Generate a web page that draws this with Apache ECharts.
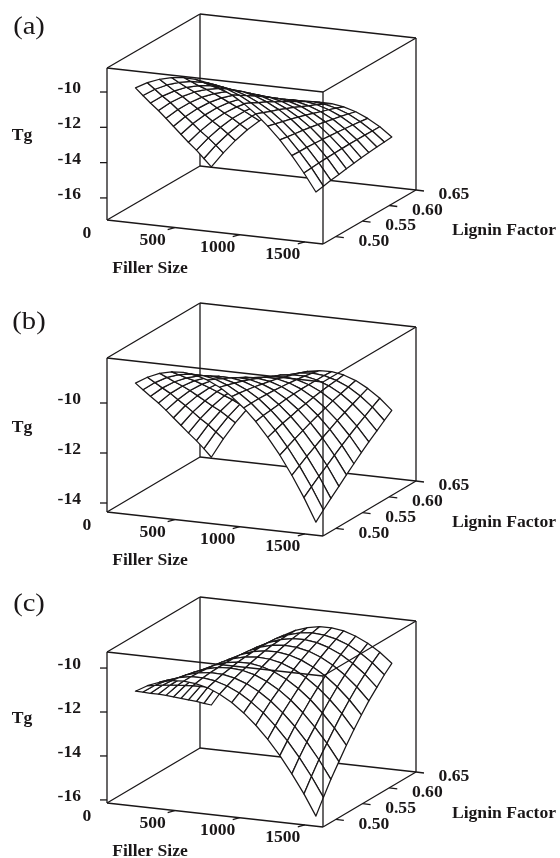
<!DOCTYPE html>
<html><head><meta charset="utf-8"><style>html,body{margin:0;background:#fff}#c{width:560px;height:858px}</style>
<script src="https://cdn.jsdelivr.net/npm/echarts@6/dist/echarts.min.js"></script></head><body><div id="c"></div>
<script>
const fillerGrid=[100,192,285,377,470,562,655,747,840,932,1025,1117,1210,1302,1395,1487];
const ligninGrid=[.50,.514,.528,.543,.557,.571,.585,.599,.614,.628,.642];
const fillerTicks=[500,1000,1500];
const ligninTicks=['0.50','0.55','0.60','0.65'];
const tgA=[
[-10.09,-9.72,-9.45,-9.28,-9.20,-9.23,-9.35,-9.57,-9.88,-10.30,-10.81,-11.42,-12.13,-12.94,-13.85,-14.85],
[-10.77,-10.34,-10.02,-9.80,-9.67,-9.64,-9.71,-9.88,-10.15,-10.51,-10.98,-11.54,-12.20,-12.96,-13.81,-14.77],
[-11.44,-10.97,-10.60,-10.32,-10.15,-10.07,-10.09,-10.21,-10.42,-10.74,-11.15,-11.66,-12.27,-12.97,-13.78,-14.68],
[-12.13,-11.60,-11.18,-10.85,-10.63,-10.50,-10.47,-10.53,-10.70,-10.96,-11.32,-11.78,-12.34,-13.00,-13.75,-14.61],
[-12.81,-12.24,-11.77,-11.39,-11.11,-10.93,-10.85,-10.87,-10.98,-11.20,-11.51,-11.92,-12.42,-13.03,-13.73,-14.54],
[-13.51,-12.88,-12.36,-11.93,-11.60,-11.37,-11.24,-11.21,-11.27,-11.43,-11.69,-12.05,-12.51,-13.07,-13.72,-14.47],
[-14.21,-13.53,-12.96,-12.48,-12.10,-11.82,-11.64,-11.55,-11.57,-11.68,-11.89,-12.20,-12.60,-13.11,-13.71,-14.41],
[-14.91,-14.19,-13.56,-13.03,-12.60,-12.27,-12.04,-11.90,-11.87,-11.93,-12.09,-12.35,-12.70,-13.16,-13.71,-14.36],
[-15.62,-14.85,-14.17,-13.59,-13.11,-12.73,-12.45,-12.26,-12.17,-12.18,-12.29,-12.50,-12.80,-13.21,-13.71,-14.31],
[-16.34,-15.51,-14.79,-14.16,-13.63,-13.19,-12.86,-12.62,-12.48,-12.44,-12.50,-12.66,-12.91,-13.27,-13.72,-14.27],
[-17.06,-16.19,-15.41,-14.73,-14.15,-13.66,-13.28,-12.99,-12.80,-12.71,-12.72,-12.83,-13.03,-13.33,-13.73,-14.23]];
const tgB=[
[-9.44,-9.15,-8.94,-8.83,-8.80,-8.85,-9.00,-9.23,-9.55,-9.95,-10.44,-11.02,-11.68,-12.43,-13.27,-14.20],
[-9.88,-9.54,-9.28,-9.12,-9.04,-9.05,-9.14,-9.32,-9.59,-9.94,-10.38,-10.91,-11.53,-12.23,-13.02,-13.89],
[-10.32,-9.93,-9.63,-9.42,-9.29,-9.25,-9.29,-9.42,-9.64,-9.94,-10.34,-10.81,-11.38,-12.03,-12.77,-13.60],
[-10.78,-10.34,-9.99,-9.72,-9.55,-9.45,-9.45,-9.53,-9.70,-9.95,-10.30,-10.73,-11.24,-11.84,-12.53,-13.31],
[-11.24,-10.76,-10.35,-10.04,-9.81,-9.67,-9.62,-9.65,-9.77,-9.97,-10.26,-10.64,-11.11,-11.66,-12.30,-13.03],
[-11.72,-11.18,-10.73,-10.36,-10.08,-9.89,-9.79,-9.77,-9.84,-10.00,-10.24,-10.57,-10.99,-11.49,-12.08,-12.76],
[-12.20,-11.61,-11.11,-10.69,-10.37,-10.13,-9.97,-9.90,-9.92,-10.03,-10.22,-10.50,-10.87,-11.32,-11.86,-12.49],
[-12.68,-12.05,-11.50,-11.03,-10.66,-10.37,-10.16,-10.05,-10.02,-10.07,-10.22,-10.45,-10.76,-11.17,-11.66,-12.24],
[-13.18,-12.49,-11.89,-11.38,-10.95,-10.61,-10.36,-10.19,-10.12,-10.12,-10.22,-10.40,-10.66,-11.02,-11.46,-11.99],
[-13.68,-12.95,-12.30,-11.74,-11.26,-10.87,-10.57,-10.35,-10.22,-10.18,-10.22,-10.36,-10.57,-10.88,-11.27,-11.75],
[-14.20,-13.41,-12.71,-12.10,-11.57,-11.13,-10.78,-10.52,-10.34,-10.25,-10.24,-10.32,-10.49,-10.75,-11.09,-11.52]];
const tgC=[
[-11.32,-11.01,-10.79,-10.66,-10.62,-10.67,-10.80,-11.03,-11.35,-11.76,-12.26,-12.84,-13.52,-14.29,-15.14,-16.09],
[-11.56,-11.19,-10.91,-10.72,-10.62,-10.61,-10.69,-10.86,-11.12,-11.47,-11.90,-12.43,-13.05,-13.75,-14.55,-15.44],
[-11.82,-11.39,-11.05,-10.80,-10.64,-10.57,-10.59,-10.70,-10.90,-11.19,-11.57,-12.04,-12.60,-13.25,-13.99,-14.82],
[-12.07,-11.59,-11.19,-10.89,-10.68,-10.55,-10.52,-10.57,-10.71,-10.95,-11.27,-11.68,-12.19,-12.78,-13.46,-14.23],
[-12.33,-11.80,-11.35,-10.99,-10.72,-10.54,-10.45,-10.45,-10.54,-10.72,-10.99,-11.35,-11.80,-12.34,-12.97,-13.69],
[-12.60,-12.01,-11.51,-11.10,-10.78,-10.55,-10.41,-10.36,-10.40,-10.52,-10.74,-11.05,-11.45,-11.94,-12.51,-13.18],
[-12.87,-12.23,-11.68,-11.22,-10.85,-10.57,-10.38,-10.28,-10.27,-10.35,-10.52,-10.78,-11.12,-11.56,-12.09,-12.71],
[-13.14,-12.46,-11.86,-11.35,-10.94,-10.61,-10.37,-10.22,-10.17,-10.20,-10.32,-10.53,-10.83,-11.22,-11.70,-12.27],
[-13.42,-12.69,-12.05,-11.50,-11.03,-10.66,-10.38,-10.19,-10.08,-10.07,-10.14,-10.31,-10.56,-10.91,-11.34,-11.87],
[-13.71,-12.93,-12.25,-11.65,-11.15,-10.73,-10.40,-10.17,-10.02,-9.96,-10.00,-10.12,-10.33,-10.63,-11.02,-11.50],
[-13.99,-13.18,-12.45,-11.82,-11.27,-10.81,-10.45,-10.17,-9.98,-9.88,-9.87,-9.95,-10.13,-10.39,-10.74,-11.18]];
const xRange=[-20,1640], yRange=[.476,.65];
const panels=[
 {name:'(a)',O:[107,220],ex:[216,24],ey:[93,-54],H:152,zr:[-17.25,-8.64],zt:[-10,-12,-14,-16],Z:tgA,ty:27},
 {name:'(b)',O:[107,512],ex:[216,24],ey:[93,-55],H:154,zr:[-14.36,-8.2],zt:[-10,-12,-14],Z:tgB,ty:322},
 {name:'(c)',O:[107,803],ex:[216,24],ey:[93,-55],H:151,zr:[-16.14,-9.27],zt:[-10,-12,-14,-16],Z:tgC,ty:604}
];
function proj(p,X,Y,Z){const fx=(X-xRange[0])/(xRange[1]-xRange[0]),fy=(Y-yRange[0])/(yRange[1]-yRange[0]),fz=(Z-p.zr[0])/(p.zr[1]-p.zr[0]);
 return [p.O[0]+fx*p.ex[0]+fy*p.ey[0],p.O[1]+fx*p.ex[1]+fy*p.ey[1]-fz*p.H];}
const FAM='Liberation Serif';
const INK='#1a1718';
function lineSeries(p,edges,z){return {type:'custom',coordinateSystem:'cartesian2d',z,silent:true,data:edges.map((e,i)=>[i]),encode:{x:0,y:0},clip:false,
 renderItem(par,api){const e=edges[api.value(0)];const a=api.coord(proj(p,...e[0])),b=api.coord(proj(p,...e[1]));
  const d=e[2]||[0,0];
  return {type:'line',shape:{x1:a[0],y1:a[1],x2:b[0]+d[0],y2:b[1]+d[1]},style:{stroke:INK,lineWidth:1.3}};}};}
const series=[];
panels.forEach(p=>{
 const [x0,x1]=xRange,[y0,y1]=yRange,[z0,z1]=p.zr;
 const back=[[[x0,y1,z0],[x1,y1,z0]],[[x0,y0,z0],[x0,y1,z0]],[[x0,y1,z0],[x0,y1,z1]],[[x0,y0,z1],[x0,y1,z1]],[[x0,y1,z1],[x1,y1,z1]]];
 const front=[[[x0,y0,z0],[x0,y0,z1]],[[x0,y0,z1],[x1,y0,z1]],[[x1,y0,z1],[x1,y1,z1]],[[x1,y0,z0],[x1,y0,z1]],[[x1,y1,z0],[x1,y1,z1]],[[x0,y0,z0],[x1,y0,z0]],[[x1,y0,z0],[x1,y1,z0]]];
 fillerTicks.forEach(t=>front.push([[t,y0,z0],[t,y0,z0],[-7,2]]));
 ligninTicks.forEach(t=>front.push([[x1,+t,z0],[x1,+t,z0],[8,1]]));
 p.zt.forEach(t=>front.push([[x0,y0,t],[x0,y0,t],[-7,0]]));
 series.push(lineSeries(p,back,1));
 const cells=[];for(let j=ligninGrid.length-2;j>=0;j--)for(let i=0;i<fillerGrid.length-1;i++)cells.push([i,j]);
 series.push({type:'custom',coordinateSystem:'cartesian2d',z:2,silent:true,data:cells,encode:{x:0,y:1},clip:false,
  renderItem(par,api){const i=api.value(0),j=api.value(1);
   const pts=[[i,j],[i+1,j],[i+1,j+1],[i,j+1]].map(([a,b])=>api.coord(proj(p,fillerGrid[a],ligninGrid[b],p.Z[b][a])));
   return {type:'polygon',shape:{points:pts},style:{fill:'#fff',stroke:INK,lineWidth:1.25,lineJoin:'round'}};}});
 series.push(lineSeries(p,front,3));
 const T=[];
 p.zt.forEach(t=>T.push({pt:[x0,y0,t],d:[-26,-3],s:String(t),anchor:'right'}));
 T.push({pt:[x0,y0,z0],d:[-20,14],s:'0'});
 fillerTicks.forEach(t=>T.push({pt:[t,y0,z0],d:[-22,13],s:String(t)}));
 ligninTicks.forEach(t=>T.push({pt:[x1,+t,z0],d:[38,5],s:t}));
 series.push({type:'custom',coordinateSystem:'cartesian2d',z:4,silent:true,data:T.map((t,i)=>[i]),encode:{x:0,y:0},clip:false,
  renderItem(par,api){const t=T[api.value(0)];const a=api.coord(proj(p,...t.pt));
   return {type:'text',x:a[0]+t.d[0],y:a[1]+t.d[1],scaleX:1.1,style:{text:t.s,x:0,y:0,fontFamily:FAM,fontSize:16,fontWeight:'bold',fill:INK,align:t.anchor||'center',verticalAlign:'middle'}};}});
});
const labels=[];
panels.forEach(p=>{const o=p.O;
 labels.push({s:p.name,x:29,y:p.ty,size:26,w:'normal'});
 labels.push({s:'Tg',x:22,y:o[1]-84,size:16,w:'bold'});
 labels.push({s:'Filler Size',x:150,y:o[1]+49,size:16,w:'bold'});
 labels.push({s:'Lignin Factor',x:504,y:o[1]+11,size:16,w:'bold'});
});
const chart=echarts.init(document.getElementById('c'),null,{renderer:'canvas'});
chart.setOption({animation:false,backgroundColor:'#fff',
 grid:{left:0,top:0,right:0,bottom:0},
 xAxis:{type:'value',min:0,max:560,show:false},yAxis:{type:'value',min:0,max:858,inverse:true,show:false},
 graphic:labels.map(l=>({type:'text',x:l.x,y:l.y,scaleX:1.1,z:5,style:{text:l.s,x:0,y:0,fontFamily:FAM,fontSize:l.size,fontWeight:l.w,fill:INK,align:'center',verticalAlign:'middle'}})),
 series});
</script></body></html>
